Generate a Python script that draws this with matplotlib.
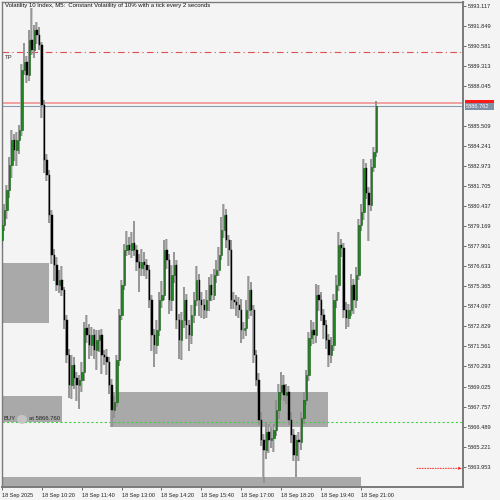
import matplotlib
matplotlib.use("Agg")
import matplotlib.pyplot as plt
import numpy as np

# ---------------- data ----------------
first_open = 5878.30
closes = [
    5879.25, 5880.20, 5881.46, 5883.04, 5884.63, 5883.99, 5884.63, 5885.26, 5889.05, 5889.56,
    5888.74, 5890.95, 5890.32, 5891.58, 5891.27, 5890.63, 5886.84, 5883.36, 5882.41, 5879.88,
    5877.35, 5876.72, 5875.45, 5875.77, 5875.14, 5873.24, 5871.03, 5869.13, 5870.39, 5869.57,
    5869.13, 5869.45, 5869.95, 5872.73, 5872.29, 5871.66, 5872.29, 5871.34, 5871.98, 5872.29,
    5871.03, 5870.90, 5870.58, 5869.13, 5867.55, 5868.05, 5870.71, 5873.56, 5875.45, 5877.67,
    5877.98, 5877.67, 5878.11, 5877.67, 5876.91, 5876.53, 5876.91, 5876.72, 5876.40, 5874.51,
    5872.29, 5871.66, 5872.61, 5874.51, 5874.82, 5877.67, 5877.04, 5874.51, 5876.09, 5876.72,
    5873.24, 5871.98, 5873.24, 5874.51, 5872.92, 5872.29, 5873.56, 5874.51, 5875.77, 5874.51,
    5874.19, 5873.87, 5874.51, 5875.45, 5874.82, 5876.09, 5876.40, 5877.35, 5878.93, 5879.88,
    5878.30, 5877.67, 5874.51, 5874.40, 5874.19, 5873.87, 5872.61, 5872.70, 5873.87, 5875.14,
    5873.87, 5871.03, 5869.45, 5866.92, 5865.65, 5865.02, 5866.16, 5865.65, 5865.78, 5866.28,
    5867.55, 5868.69, 5869.13, 5868.50, 5868.69, 5866.92, 5865.97, 5864.70, 5865.65, 5865.50,
    5867.04, 5868.18, 5869.76, 5872.10, 5872.61, 5872.29, 5874.82, 5874.51, 5873.56, 5872.92,
    5871.98, 5871.03, 5871.66, 5874.51, 5875.45, 5877.98, 5877.80, 5873.87, 5873.37, 5873.87,
    5875.45, 5874.51, 5876.09, 5879.25, 5880.07, 5882.85, 5881.27, 5880.51, 5882.92, 5883.87,
    5886.762,
]
upper_wick = [
    0.3, 0.4, 0.3, 0.5, 0.6, 0.4, 0.5, 0.3, 0.4, 1.2,
    0.4, 0.6, 2.0, 0.3, 0.5, 0.5, 0.2, 0.3, 0.4, 0.3,
    0.3, 0.4, 0.5, 0.6, 0.9, 0.2, 0.3, 0.4, 0.6, 0.5,
    0.4, 0.3, 0.6, 0.4, 0.8, 0.7, 0.5, 0.4, 0.6, 0.3,
    0.4, 0.3, 0.5, 0.3, 0.4, 0.4, 0.3, 0.4, 0.3, 0.4,
    0.9, 0.5, 0.7, 1.4, 0.3, 0.5, 0.8, 0.6, 0.4, 0.3,
    0.3, 0.4, 0.6, 0.5, 0.9, 0.6, 0.7, 0.4, 0.6, 0.8,
    0.3, 0.4, 0.5, 0.8, 0.4, 0.3, 0.6, 0.5, 0.9, 0.4,
    0.5, 0.4, 0.6, 0.5, 0.7, 0.4, 0.6, 0.5, 0.8, 0.7,
    0.4, 0.3, 0.6, 0.5, 0.4, 0.5, 0.7, 0.4, 0.6, 0.9,
    0.5, 0.3, 0.3, 0.4, 0.5, 0.4, 0.6, 0.5, 0.7, 0.4,
    0.6, 0.5, 0.8, 0.6, 0.5, 0.4, 0.5, 0.4, 0.3, 0.5,
    0.4, 0.5, 0.3, 0.4, 0.6, 0.5, 0.7, 0.6, 0.5, 0.4,
    0.3, 0.4, 0.5, 0.4, 0.6, 0.8, 0.4, 0.3, 0.5, 0.4,
    0.7, 0.4, 0.5, 0.4, 0.5, 0.6, 0.3, 0.4, 0.5, 0.3,
    0.3,
]
lower_wick = [
    0.5, 0.4, 0.6, 0.5, 0.8, 0.7, 1.0, 0.9, 0.4, 0.3,
    0.5, 0.4, 0.3, 0.5, 0.6, 0.3, 0.8, 0.8, 0.4, 0.5,
    0.6, 1.0, 0.4, 0.5, 0.4, 0.6, 0.5, 0.8, 0.9, 0.7,
    1.0, 1.5, 0.8, 0.6, 0.5, 0.9, 0.7, 0.6, 1.3, 0.8,
    1.2, 0.5, 0.8, 0.6, 1.1, 0.5, 0.3, 0.4, 0.3, 0.3,
    0.4, 0.3, 0.5, 0.4, 0.6, 1.5, 0.5, 0.7, 0.6, 0.5,
    1.0, 1.4, 0.6, 0.4, 0.5, 0.3, 0.6, 0.9, 0.7, 0.5,
    0.6, 1.2, 1.3, 0.5, 0.9, 1.0, 0.6, 0.5, 0.4, 1.0,
    0.8, 0.6, 0.5, 0.7, 0.4, 0.3, 0.5, 0.4, 0.3, 0.5,
    0.5, 1.0, 0.6, 0.5, 0.7, 0.5, 0.8, 0.6, 0.5, 0.6,
    0.4, 0.5, 0.4, 0.3, 0.4, 2.1, 0.6, 0.8, 0.5, 0.9,
    0.4, 0.6, 0.5, 0.4, 0.6, 0.3, 0.5, 0.4, 1.4, 1.2,
    0.5, 0.4, 0.3, 0.4, 0.5, 0.6, 0.5, 0.7, 0.4, 0.9,
    0.6, 0.8, 0.5, 0.4, 0.5, 0.4, 0.6, 0.5, 0.7, 0.6,
    0.4, 0.9, 0.5, 0.3, 0.4, 0.5, 0.4, 2.3, 0.4, 0.3,
    0.3,
]
time_labels = ["18 Sep 2025", "18 Sep 10:20", "18 Sep 11:40", "18 Sep 13:00", "18 Sep 14:20",
               "18 Sep 15:40", "18 Sep 17:00", "18 Sep 18:20", "18 Sep 19:40", "18 Sep 21:00"]
time_label_bars = [0, 16, 32, 48, 64, 80, 96, 112, 128, 144]
price_ticks = [5893.117, 5891.849, 5890.581, 5889.313, 5888.045, 5885.509, 5884.241,
               5882.973, 5881.705, 5880.437, 5879.169, 5877.901, 5876.633, 5875.365,
               5874.097, 5872.829, 5871.561, 5870.293, 5869.025, 5867.757, 5866.489,
               5865.221, 5863.953]
tp_price = 5890.16
buy_price = 5866.760
bid_price = 5886.762
ask_price = 5886.94
sl_arrow_price = 5863.85
# zones: (bar_start, bar_end, price_low, price_high)
zones = [(-2, 18.8, 5873.05, 5876.85),
         (-2, 24.0, 5866.79, 5868.43),
         (44.0, 130.9, 5866.47, 5868.69),
         (-2, 144.0, 5860.0, 5863.31)]
title = "Volatility 10 Index, M5:  Constant Volatility of 10% with a tick every 2 seconds"

# ---------------- figure ----------------
BG = "#f4f4f4"
W = H = 500
fig = plt.figure(figsize=(5, 5), dpi=100, facecolor=BG)
ax_l, ax_r, ax_t, ax_b = 1.7, 463.0, 1.7, 487.0
ax = fig.add_axes([ax_l / W, 1 - ax_b / H, (ax_r - ax_l) / W, (ax_b - ax_t) / H])
ax.set_facecolor(BG)

px_per_bar = 2.5
x0 = (ax_l - 1.0) / px_per_bar
ax.set_xlim(x0, x0 + (ax_r - ax_l) / px_per_bar)
ax.set_ylim(5862.67, 5893.37)

closes = np.array(closes)
opens = np.concatenate([[first_open], closes[:-1]])
highs = np.maximum(opens, closes) + np.array(upper_wick)
lows = np.minimum(opens, closes) - np.array(lower_wick)
idx = np.arange(len(closes))

# zones
for (xa, xb, pl, ph) in zones:
    ax.add_patch(plt.Rectangle((xa, pl), xb - xa, ph - pl, facecolor="#a9a9a9",
                               edgecolor="none", zorder=1))

# horizontal lines
ax.axhline(tp_price, color="#e05050", lw=0.8, ls=(0, (6, 3, 1, 3)), zorder=2)
ax.axhline(buy_price, color="#40d040", lw=0.8, ls=(0, (2, 2)), zorder=2)
ax.axhline(ask_price, color="#f2a0a0", lw=1.4, zorder=2)
ax.axhline(bid_price, color="#8a9bb0", lw=0.8, zorder=2)

# candles
ax.vlines(idx - 0.15, lows, highs, color="#a8a8a8", lw=1.3, zorder=3)
ax.vlines(idx + 0.05, lows, highs, color="#505050", lw=0.35, zorder=3)
bull = closes >= opens
body_h = np.maximum(np.abs(closes - opens), 0.05)
body_b = np.minimum(opens, closes)
ax.bar(idx[bull] + 0.15, body_h[bull], bottom=body_b[bull], width=0.55,
       color="#1d8a1d", edgecolor="#0b5a0b", lw=0.4, zorder=4)
ax.bar(idx[~bull] + 0.15, body_h[~bull], bottom=body_b[~bull], width=0.55,
       color="#000000", edgecolor="#000000", lw=0.3, zorder=4)

# red dotted arrow at bottom right
ax.annotate("", xy=(x0 + (462 - ax_l) / px_per_bar, sl_arrow_price),
            xytext=(x0 + (417 - ax_l) / px_per_bar, sl_arrow_price),
            arrowprops=dict(arrowstyle="-|>", color="#ff2020", lw=0.7, ls=":",
                            mutation_scale=4, shrinkA=0, shrinkB=0), zorder=5)

# axes styling
for s in ax.spines.values():
    s.set_color("#7a7a7a")
    s.set_linewidth(1.0)
ax.spines["right"].set_linewidth(1.4)
ax.spines["bottom"].set_linewidth(1.4)

FONT = "Liberation Sans"
ax.yaxis.tick_right()
ax.set_yticks(price_ticks)
ax.set_yticklabels([f"{p:.3f}" for p in price_ticks], fontsize=4.1, family=FONT, color="#222222")
ax.tick_params(axis="y", direction="out", length=2.5, width=0.6, color="#555555", pad=0.6)

ax.set_xticks(time_label_bars)
ax.set_xticklabels(time_labels, fontsize=4.0, family=FONT, color="#222222", ha="left")
ax.tick_params(axis="x", direction="out", length=2.5, width=0.6, color="#555555", pad=1.5)
for lab in ax.get_xticklabels():
    lab.set_horizontalalignment("left")

# price boxes on right axis
def ypix(p):
    y0, y1 = ax.get_ylim()
    return ax_t + (y1 - p) / (y1 - y0) * (ax_b - ax_t)

# ask box (mostly hidden behind the bid box, as in the terminal)
ya = ypix(ask_price)
fig.patches.append(plt.Rectangle((465 / W, 1 - (ya + 1.5) / H), 29 / W, 5.0 / H,
                                 transform=fig.transFigure, facecolor="#ff1a1a",
                                 edgecolor="none", zorder=5))
yb_ = ypix(bid_price)
fig.patches.append(plt.Rectangle((465 / W, 1 - (yb_ + 3.6) / H), 29 / W, 7.2 / H,
                                 transform=fig.transFigure, facecolor="#7f90a6",
                                 edgecolor="none", zorder=6))
fig.text(466 / W, 1 - (yb_ + 0.6) / H, f"{bid_price:.3f}", fontsize=4.1, family=FONT,
         color="white", va="center", ha="left", zorder=7)

# texts
fig.text(5 / W, 1 - 6 / H, title, fontsize=4.3, family=FONT, color="#111111", va="center", ha="left")
fig.text(5 / W, 1 - ypix(tp_price - 0.35) / H, "TP", fontsize=4.3, family=FONT, color="#333333",
         va="center", ha="left")
yb = ypix(buy_price) - 4
fig.text(4 / W, 1 - yb / H, "BUY", fontsize=4.2, family=FONT, color="#222222", va="center", ha="left")
fig.patches.append(matplotlib.patches.Ellipse((22 / W, 1 - (yb + 1) / H), 10 / W, 9 / H,
                                              transform=fig.transFigure, facecolor="#c4c4c4",
                                              edgecolor="none", zorder=5))
fig.text(29 / W, 1 - yb / H, "at 5866.760", fontsize=4.2, family=FONT, color="#222222",
         va="center", ha="left", zorder=6)

fig.savefig("out.png", dpi=100, facecolor=BG)
